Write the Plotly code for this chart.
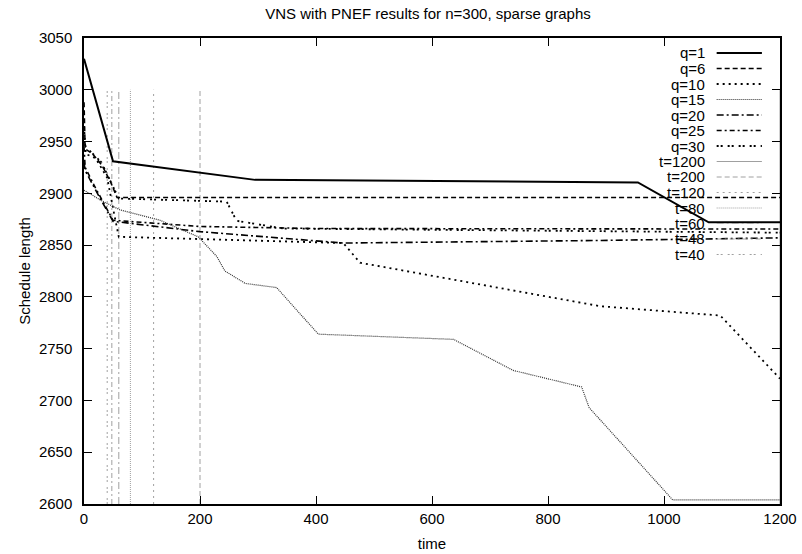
import plotly.graph_objects as go

# ---------------- data ----------------
q1_t = [0, 50, 295, 955, 1077, 1200]
q1_v = [3030, 2931, 2913, 2910.5, 2872, 2872]

q6_t = [0, 2, 15, 31, 45, 57, 1200]
q6_v = [2988, 2943, 2938, 2927, 2912, 2896, 2896]

q10_t = [0, 3, 20, 40, 52, 60, 447, 476, 890, 1005, 1097, 1200]
q10_v = [2965, 2938, 2934, 2915, 2880, 2858, 2852, 2833, 2791, 2786, 2782, 2721]

q15_t = [0, 30, 62, 131, 197, 229, 243, 278, 332, 404, 637, 740, 858, 871, 1015, 1200]
q15_v = [2903, 2893, 2884, 2874, 2858, 2839, 2825, 2813, 2809, 2764, 2759, 2729, 2713, 2693, 2604, 2604]

q20_t = [0, 2, 25, 50, 200, 447, 890, 1200]
q20_v = [2930, 2922, 2898, 2873, 2863, 2852, 2854.5, 2857]

q25_t = [0, 2, 20, 50, 200, 400, 1200]
q25_v = [2945, 2925, 2905, 2874, 2868, 2866, 2865.5]

q30_t = [0, 3, 30, 60, 246, 263, 344, 1200]
q30_v = [2950, 2945, 2930, 2895, 2892, 2873.5, 2866, 2862]

time_limits = [1200, 200, 120, 80, 60, 48, 40]
vline_low, vline_high = 2600, 3000

q_series = [
    ("q=1", q1_t, q1_v),
    ("q=6", q6_t, q6_v),
    ("q=10", q10_t, q10_v),
    ("q=15", q15_t, q15_v),
    ("q=20", q20_t, q20_v),
    ("q=25", q25_t, q25_v),
    ("q=30", q30_t, q30_v),
]

# ---------------- styles ----------------
q_styles = [
    dict(color="black", width=2, dash="solid"),
    dict(color="black", width=1.6, dash="5px,3px"),
    dict(color="black", width=1.8, dash="2px,4px"),
    dict(color="#333333", width=1.2, dash="1px,1px"),
    dict(color="black", width=1.6, dash="7px,3px,2px,3px"),
    dict(color="black", width=1.6, dash="5px,3px,2px,3px"),
    dict(color="black", width=1.8, dash="2px,2px,2px,5px"),
]
GRAY = "#a0a0a0"
t_styles = [
    dict(color=GRAY, width=1, dash="solid"),
    dict(color=GRAY, width=1, dash="5px,3px"),
    dict(color=GRAY, width=1, dash="2px,4px"),
    dict(color=GRAY, width=1, dash="1px,1px"),
    dict(color=GRAY, width=1, dash="7px,3px,2px,3px"),
    dict(color=GRAY, width=1, dash="5px,3px,2px,3px"),
    dict(color=GRAY, width=1, dash="2px,2px,2px,5px"),
]

fig = go.Figure()

for (t, sty) in zip(time_limits, t_styles):
    fig.add_trace(go.Scatter(x=[t, t], y=[vline_low, vline_high], mode="lines",
                             line=sty, showlegend=False, hoverinfo="skip"))

for (name, tt, vv), sty in zip(q_series, q_styles):
    fig.add_trace(go.Scatter(x=tt, y=vv, mode="lines", name=name,
                             line=sty, showlegend=False))

# ---------------- custom gnuplot-like legend ----------------
FONT = "Liberation Sans, Arial, Helvetica, sans-serif"
labels = [s[0] for s in q_series] + ["t=%d" % t for t in time_limits]
styles = q_styles + t_styles
H = 466.0
top_px = 15.0  # first entry offset from top of plot area (px)
step_px = 15.5
shapes = []
annotations = []
for i, (lab, sty) in enumerate(zip(labels, styles)):
    ypix = top_px + i * step_px
    yp = 1 - ypix / H
    annotations.append(dict(x=0.8955, y=yp, xref="paper", yref="paper",
                            text=lab, showarrow=False, xanchor="right",
                            yanchor="middle", font=dict(size=15, color="black", family=FONT)))
    shapes.append(dict(type="line", xref="paper", yref="paper",
                       x0=0.909, x1=0.974, y0=yp, y1=yp, line=sty))

fig.update_layout(
    width=802, height=554,
    margin=dict(l=84, r=22, t=38, b=50, autoexpand=False),
    paper_bgcolor="white", plot_bgcolor="white",
    font=dict(family=FONT, size=15, color="black"),
    title=dict(text="VNS with PNEF results for n=300, sparse graphs",
               x=428 / 802, xanchor="center", y=1 - 14 / 554, yanchor="middle",
               font=dict(size=15)),
    shapes=shapes, annotations=annotations,
    showlegend=False,
)
fig.update_xaxes(range=[0, 1200], tickvals=[0, 200, 400, 600, 800, 1000, 1200],
                 ticks="inside", ticklen=8, tickwidth=1, tickcolor="black",
                 showline=True, linecolor="black", linewidth=1.5, mirror="ticks",
                 showgrid=False, zeroline=False, automargin=False,
                 tickfont=dict(size=15),
                 title=dict(text="time", standoff=13, font=dict(size=15)))
fig.update_yaxes(range=[2600, 3050], tickvals=list(range(2600, 3051, 50)),
                 ticks="inside", ticklen=8, tickwidth=1, tickcolor="black",
                 showline=True, linecolor="black", linewidth=1.5, mirror="ticks",
                 showgrid=False, zeroline=False, automargin=False,
                 tickfont=dict(size=15), ticklabelstandoff=7,
                 title=dict(text="Schedule length", standoff=5, font=dict(size=15)))

fig.write_html("out.html", config={"displayModeBar": False},
               post_script="document.body.style.margin='0';document.body.style.overflow='hidden';")
